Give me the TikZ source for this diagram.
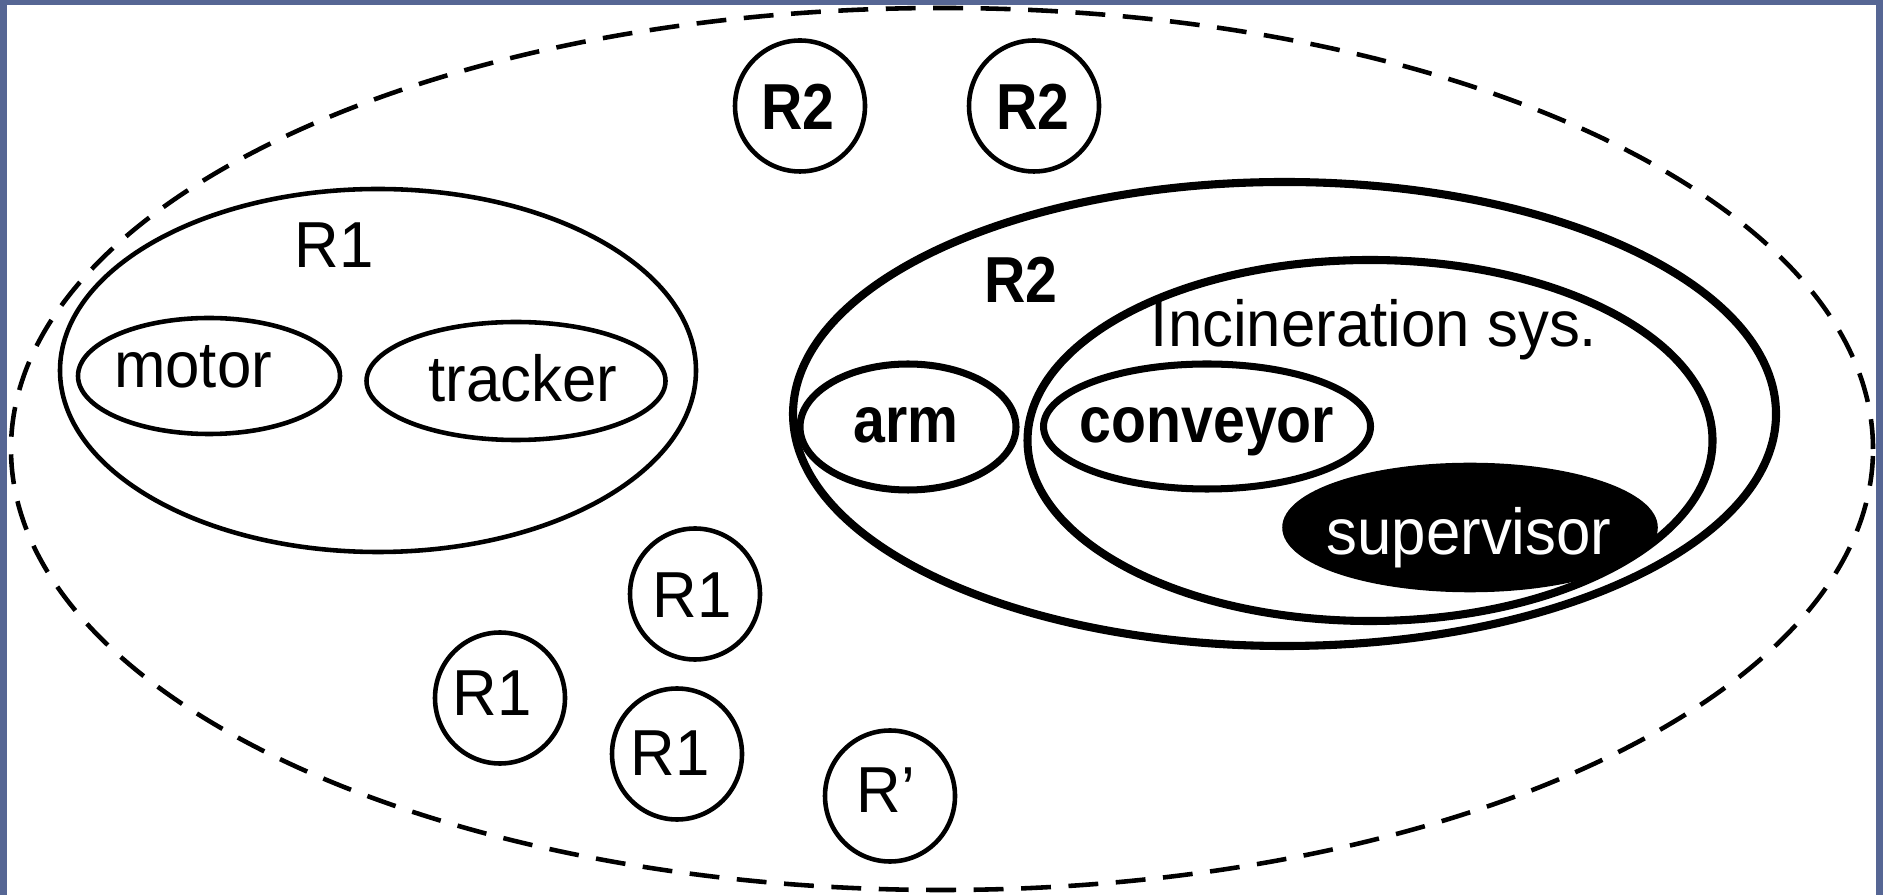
\documentclass[tikz,border=0pt]{standalone}
\usepackage{fontspec}
\setmainfont{Liberation Sans}[FakeStretch=0.95]
\newfontfamily\heavyfont{Liberation Sans}[FakeStretch=0.88]
\usepackage{tikz}
\usetikzlibrary{shapes.geometric}
\definecolor{frame}{RGB}{86,102,148}

\tikzset{
  zone/.style={draw, ellipse, inner sep=0pt, line width=1.3pt},
  thickzone/.style={zone, line width=2.3pt},
  token/.style={zone, minimum width=1.30cm, minimum height=1.31cm},
  lbl/.style={inner sep=0pt, anchor=base},
  heavylbl/.style={lbl, font=\fontsize{18.5}{22}\heavyfont\bfseries},
}

\begin{document}
\begin{tikzpicture}[font=\fontsize{18.5}{22}\selectfont]

  % canvas with its frame
  \useasboundingbox (0,0) rectangle (18.83,8.95);
  \fill[frame] (0,0) rectangle (18.83,8.95);
  \fill[white] (0.07,-0.05) rectangle (18.76,8.90);

  % outer world
  \node[zone, dash pattern=on 8.5pt off 5pt, minimum width=18.62cm,
        minimum height=8.82cm] (world) at (9.42,4.46) {};

  % R1 region
  \node[zone, minimum width=6.36cm, minimum height=3.63cm] (r1zone) at (3.78,5.245) {};
  \node[lbl] (r1lbl) at (3.34,6.27) {R1};
  \node[zone, minimum width=2.62cm, minimum height=1.16cm] (motor) at (2.09,5.19) {};
  \node[lbl] (motortxt) at (1.93,5.07) {motor};
  \node[zone, minimum width=2.99cm, minimum height=1.18cm] (tracker) at (5.16,5.14) {};
  \node[lbl] (trackertxt) at (5.23,4.93) {tracker};

  % R2 region
  \node[thickzone, minimum width=9.83cm, minimum height=4.64cm] (r2zone) at (12.845,4.81) {};
  \node[heavylbl] (r2lbl) at (10.21,5.92) {R2};
  \node[thickzone, minimum width=6.85cm, minimum height=3.61cm] (incin) at (13.70,4.545) {};
  \node[lbl] (incinlbl) at (13.74,5.48) {Incineration sys.};
  \node[zone, line width=2pt, minimum width=2.16cm, minimum height=1.26cm] (arm) at (9.08,4.68) {};
  \node[heavylbl] (armtxt) at (9.06,4.52) {arm};
  \node[zone, line width=2pt, minimum width=3.27cm, minimum height=1.25cm] (conveyor) at (12.07,4.685) {};
  \node[heavylbl] (conveyortxt) at (12.07,4.52) {conveyor};
  \node[zone, fill=black, minimum width=3.71cm, minimum height=1.25cm] (supervisor) at (14.70,3.675) {};
  \node[lbl, text=white] (supervisortxt) at (14.69,3.40) {supervisor};

  % loose R2 tokens
  \foreach \nm/\x/\y/\tx in {r2a/8.00/7.89/7.98, r2b/10.34/7.89/10.33}
  {
    \node[token] (\nm) at (\x,\y) {};
    \node[heavylbl] (\nm txt) at (\tx,\y-0.24) {R2};
  }

  % loose R1 tokens
  \foreach \nm/\x/\y/\tx/\ty/\txt in {r1a/6.95/3.01/6.92/2.77/R1,
      r1b/5.00/1.97/4.92/1.79/R1, r1c/6.77/1.41/6.70/1.20/R1,
      r1d/8.90/0.99/8.86/0.83/R'}
  {
    \node[token] (\nm) at (\x,\y) {};
    \node[lbl] (\nm txt) at (\tx,\ty) {\txt};
  }

\end{tikzpicture}
\end{document}
